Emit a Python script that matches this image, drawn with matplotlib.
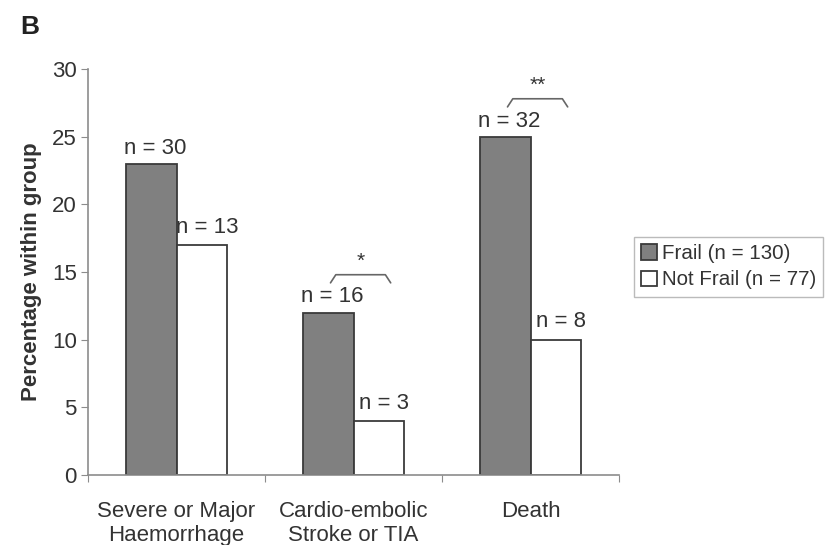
import numpy as np
import matplotlib
matplotlib.use('Agg')
import matplotlib.pyplot as plt

plt.rcParams['font.family'] = ['Liberation Sans', 'DejaVu Sans']

# data
categories = ['Severe or Major\nHaemorrhage', 'Cardio-embolic\nStroke or TIA', 'Death']
frail = [23, 12, 25]
not_frail = [17, 4, 10]
frail_n = ['n = 30', 'n = 16', 'n = 32']
not_frail_n = ['n = 13', 'n = 3', 'n = 8']
sig_marks = ['', '*', '**']
yticks = [0, 5, 10, 15, 20, 25, 30]

text_col = '#333333'
axis_col = '#8c8c8c'
fs = 16

fig = plt.figure(figsize=(8.25, 5.45), dpi=100)
ax = fig.add_axes([0.1067, 0.1284, 0.6436, 0.745])

x = np.arange(len(categories))
w = 0.285
b1 = ax.bar(x - w / 2, frail, w, color='#808080', edgecolor='#3a3a3a', linewidth=1.3,
            label='Frail (n = 130)')
b2 = ax.bar(x + w / 2, not_frail, w, color='white', edgecolor='#3a3a3a', linewidth=1.3,
            label='Not Frail (n = 77)')

# n labels above bars
for i in range(len(categories)):
    ax.text(x[i] - w / 2 + 0.02, frail[i] + 0.75, frail_n[i], ha='center', va='baseline',
            fontsize=fs, color=text_col)
    ax.text(x[i] + w / 2 + 0.03, not_frail[i] + 0.9, not_frail_n[i], ha='center', va='baseline',
            fontsize=fs, color=text_col)

# significance brackets
for i, mark in enumerate(sig_marks):
    if not mark:
        continue
    top = max(frail[i], not_frail[i]) + 2.8
    x0 = x[i] - 0.13
    x1 = x[i] + 0.21
    ax.plot([x0, x0 + 0.03, x1 - 0.03, x1], [top - 0.6, top, top, top - 0.6],
            color='#666666', linewidth=1.2, solid_capstyle='round', clip_on=False)
    ax.text((x0 + x1) / 2, top + 0.3, mark, ha='center', va='bottom', fontsize=15,
            color=text_col)

ax.set_xlim(-0.5, 2.5)
ax.set_ylim(0, 30)
ax.set_yticks(yticks)
ax.set_xticks([-0.5, 0.5, 1.5, 2.5])
ax.set_xticklabels([])
ax.set_xticks(x, minor=True)
ax.set_xticklabels(categories, minor=True, fontsize=fs, color=text_col, linespacing=1.15)
ax.tick_params(axis='x', which='minor', length=0, pad=19)
ax.tick_params(axis='x', which='major', length=5, color=axis_col, direction='out')
ax.tick_params(axis='y', length=5, color=axis_col, labelsize=fs, labelcolor=text_col, pad=3)

for s in ['top', 'right']:
    ax.spines[s].set_visible(False)
for s in ['left', 'bottom']:
    ax.spines[s].set_color(axis_col)
    ax.spines[s].set_linewidth(1.2)

ax.set_ylabel('Percentage within group', fontsize=fs, fontweight='bold', color=text_col,
              labelpad=7)

fig.text(0.024, 0.972, 'B', fontsize=19, fontweight='bold', color='#222222', va='top')

fig.legend(handles=[b1, b2], loc='upper left', bbox_to_anchor=(634 / 825, 1 - 237 / 545),
           fontsize=14.8, frameon=True, fancybox=False, edgecolor='#aaaaaa',
           handlelength=0.75, handleheight=0.75, handletextpad=0.25, borderpad=0.35,
           labelspacing=0.35, borderaxespad=0, labelcolor=text_col)

fig.savefig('out.png', dpi=100)
